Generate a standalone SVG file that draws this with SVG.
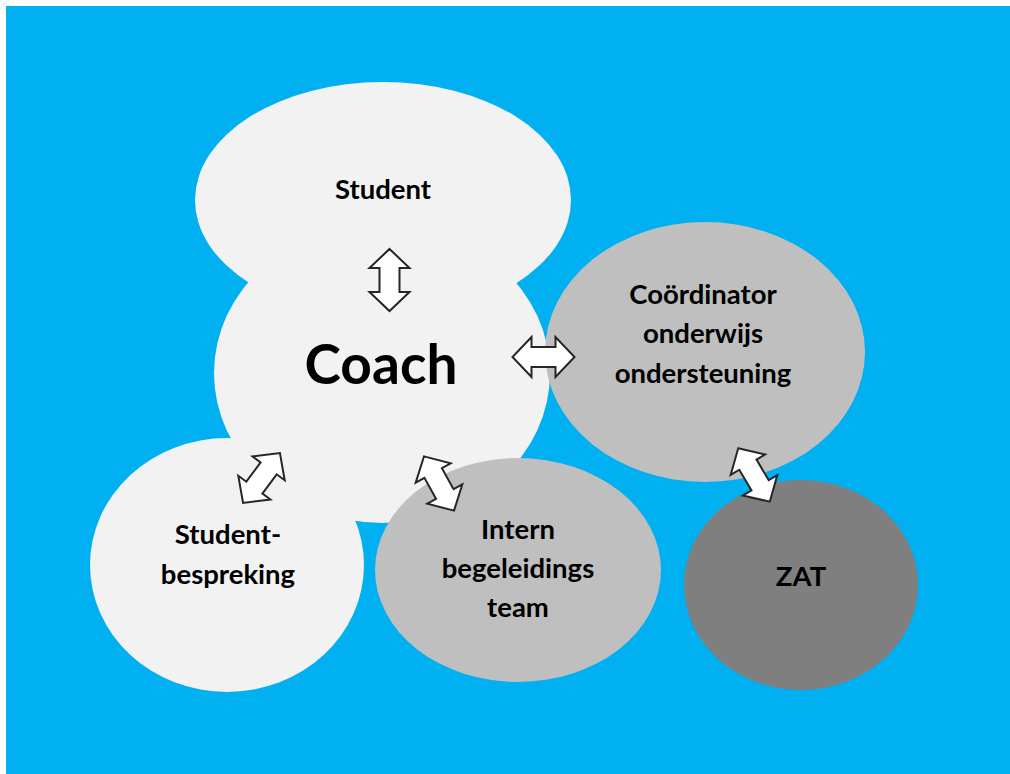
<svg xmlns="http://www.w3.org/2000/svg" width="1010" height="774" viewBox="0 0 1010 774">
<style>
.t{font-family:Lato,"Liberation Sans",sans-serif;font-weight:bold;fill:#000;text-anchor:middle}
.s{font-size:27.5px}
.light{fill:#F2F2F2}
.mid{fill:#BFBFBF}
.dark{fill:#7F7F7F}
.arr{fill:#FFFFFF;stroke:#262626;stroke-width:2;stroke-linejoin:miter}
</style>
<defs>
<path id="dbl" d="M0,-31 L20,-12 L10,-12 L10,12 L20,12 L0,31 L-20,12 L-10,12 L-10,-12 L-20,-12 Z"/>
</defs>
<rect x="0" y="0" width="1010" height="774" fill="#FFFFFF"/>
<rect x="6" y="6" width="1004" height="768" fill="#00B0F0"/>
<g id="student"><ellipse class="light" cx="383" cy="200" rx="188" ry="118"/><text class="t s" x="383" y="199">Student</text></g>
<g id="coach"><ellipse class="light" cx="382" cy="373" rx="168" ry="150"/><text class="t" x="381" y="384" font-size="55">Coach</text></g>
<g id="studentbespreking"><ellipse class="light" cx="227" cy="565" rx="137" ry="127"/><text class="t s"><tspan x="228" y="544">Student-</tspan><tspan x="228" y="584">bespreking</tspan></text></g>
<g id="intern"><ellipse class="mid" cx="518" cy="570" rx="143" ry="112"/><text class="t s"><tspan x="518" y="539">Intern</tspan><tspan x="518" y="578">begeleidings</tspan><tspan x="518" y="617">team</tspan></text></g>
<g id="coordinator"><ellipse class="mid" cx="705" cy="352" rx="160" ry="130"/><text class="t s"><tspan x="703" y="304">Coördinator</tspan><tspan x="703" y="343">onderwijs</tspan><tspan x="703" y="383">ondersteuning</tspan></text></g>
<g id="zat"><ellipse class="dark" cx="801" cy="585" rx="117" ry="105"/><text class="t s" x="801" y="586">ZAT</text></g>
<g id="connectors">
<use href="#dbl" class="arr" transform="translate(389.5,280)"/>
<use href="#dbl" class="arr" transform="translate(543.5,357) rotate(90)"/>
<use href="#dbl" class="arr" transform="translate(261.5,478) rotate(36.5)"/>
<use href="#dbl" class="arr" transform="translate(439,483.5) rotate(-29)"/>
<use href="#dbl" class="arr" transform="translate(754,475) rotate(-30.6)"/>
</g>
</svg>
